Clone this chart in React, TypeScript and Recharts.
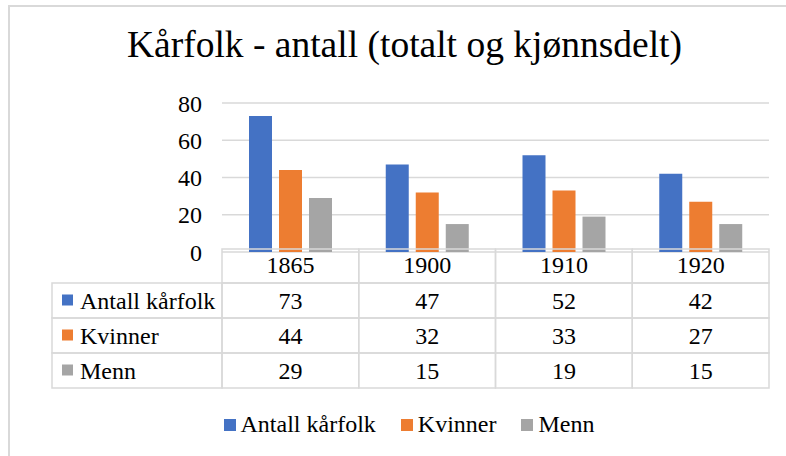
import { BarChart, Bar, XAxis, YAxis, CartesianGrid, Legend } from "recharts";

const years = ["1865", "1900", "1910", "1920"];
const antall = [73, 47, 52, 42];
const kvinner = [44, 32, 33, 27];
const menn = [29, 15, 19, 15];
const yTicks = [0, 20, 40, 60, 80];

const series = [
  { key: "antall", name: "Antall kårfolk", color: "#4472C4", values: antall },
  { key: "kvinner", name: "Kvinner", color: "#ED7D31", values: kvinner },
  { key: "menn", name: "Menn", color: "#A5A5A5", values: menn },
];

const data = years.map((year, i) => ({
  year,
  antall: antall[i],
  kvinner: kvinner[i],
  menn: menn[i],
}));

const FONT = "'Liberation Serif', 'Times New Roman', serif";
const LINE = "#d9d9d9";

// table geometry (chart chrome, not data)
const PLOT_LEFT = 222;
const PLOT_RIGHT = 769;
const PLOT_BOTTOM = 249;
const CELL_W = (PLOT_RIGHT - PLOT_LEFT) / years.length;
const HEAD_H = 34;
const ROW_H = 35;
const LABEL_LEFT = 52;

function TableTick(props: any) {
  const { x, payload } = props;
  const index = payload?.index ?? props.index ?? 0;
  const left = x - CELL_W / 2;
  const top = PLOT_BOTTOM;
  return (
    <g fontFamily={FONT} fontSize={24} fill="#000">
      <rect x={left} y={top} width={CELL_W} height={HEAD_H} fill="none" stroke={LINE} strokeWidth={1.5} />
      <text x={x} y={top + HEAD_H / 2 + 7} textAnchor="middle" fill="#000">
        {payload.value}
      </text>
      {series.map((s, r) => {
        const rowTop = top + HEAD_H + r * ROW_H;
        return (
          <g key={s.key}>
            <rect x={left} y={rowTop} width={CELL_W} height={ROW_H} fill="none" stroke={LINE} strokeWidth={1.5} />
            <text x={x} y={rowTop + ROW_H / 2 + 8} textAnchor="middle" fill="#000">
              {s.values[index]}
            </text>
          </g>
        );
      })}
      {index === 0 &&
        series.map((s, r) => {
          const rowTop = top + HEAD_H + r * ROW_H;
          return (
            <g key={"lbl" + s.key}>
              <rect
                x={LABEL_LEFT}
                y={rowTop}
                width={left - LABEL_LEFT}
                height={ROW_H}
                fill="none"
                stroke={LINE}
                strokeWidth={1.5}
              />
              <rect x={LABEL_LEFT + 10} y={rowTop + ROW_H / 2 - 6} width={11} height={11} fill={s.color} />
              <text x={LABEL_LEFT + 28} y={rowTop + ROW_H / 2 + 8} fill="#000">
                {s.name}
              </text>
            </g>
          );
        })}
    </g>
  );
}

function LegendContent() {
  return (
    <div
      style={{
        display: "flex",
        justifyContent: "center",
        gap: 25,
        fontFamily: FONT,
        fontSize: 24,
        color: "#000",
        paddingLeft: 32,
      }}
    >
      {series.map((s) => (
        <div key={s.key} style={{ display: "flex", alignItems: "center", gap: 5 }}>
          <span style={{ display: "inline-block", width: 12, height: 12, background: s.color }} />
          <span>{s.name}</span>
        </div>
      ))}
    </div>
  );
}

export default function App() {
  return (
    <div
      style={{
        position: "absolute",
        left: 0,
        top: 0,
        width: 786,
        height: 456,
        overflow: "hidden",
        background: "#fff",
      }}
    >
      <div
        style={{
          position: "absolute",
          left: 8,
          top: 5,
          width: 900,
          height: 600,
          border: `2px solid ${LINE}`,
        }}
      />
      <div
        style={{
          position: "absolute",
          left: 0,
          width: 809,
          top: 23,
          textAlign: "center",
          fontFamily: FONT,
          fontSize: 37.5,
          lineHeight: "44px",
          color: "#000",
        }}
      >
        Kårfolk - antall (totalt og kjønnsdelt)
      </div>
      <div style={{ position: "absolute", left: 0, top: 0 }}>
        <BarChart
          width={786}
          height={456}
          data={data}
          margin={{ top: 103, right: 786 - PLOT_RIGHT, left: PLOT_LEFT - 40, bottom: 37 }}
          barSize={23}
          barGap={7}
        >
          <CartesianGrid vertical={false} stroke={LINE} strokeWidth={1.5} />
          <XAxis
            dataKey="year"
            axisLine={false}
            tickLine={false}
            height={140}
            interval={0}
            tick={<TableTick />}
          />
          <YAxis
            width={40}
            domain={[0, 80]}
            ticks={yTicks}
            axisLine={false}
            tickLine={false}
            tickMargin={14}
            tick={{ fill: "#000", fontSize: 24, fontFamily: FONT }}
          />
          <Legend
            verticalAlign="bottom"
            content={<LegendContent />}
            wrapperStyle={{ top: 411, left: 0, width: 786 }}
          />
          {series.map((s) => (
            <Bar key={s.key} dataKey={s.key} name={s.name} fill={s.color} isAnimationActive={false} />
          ))}
        </BarChart>
      </div>
    </div>
  );
}
